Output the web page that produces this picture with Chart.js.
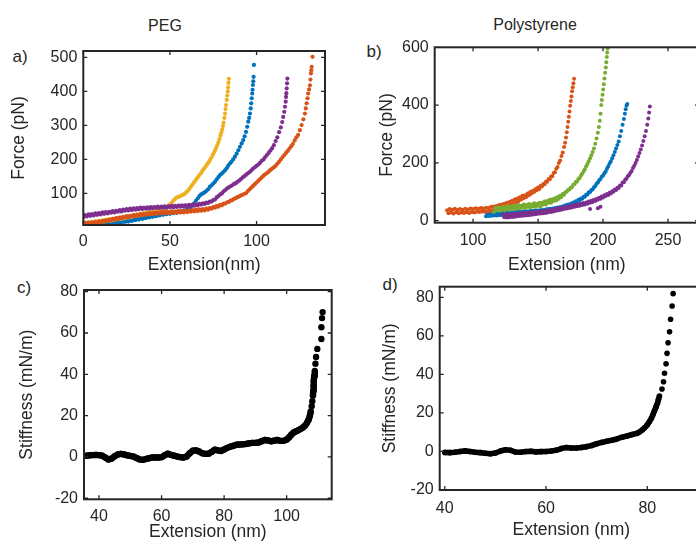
<!DOCTYPE html>
<html lang="en">
<head>
<meta charset="UTF-8">
<title>PEG / Polystyrene force and stiffness</title>
<script src="https://cdn.jsdelivr.net/npm/chart.js"></script>
<style>
  html, body { margin: 0; padding: 0; background: #fff; }
  body { position: relative; width: 696px; height: 545px; overflow: hidden;
         font-family: "Liberation Sans", Arial, Helvetica, sans-serif; color: #262626; }
  canvas { position: absolute; }
  .lbl { position: absolute; transform: translate(-50%, -50%); white-space: nowrap; }
</style>
</head>
<body>
<div class="lbl" style="left:165px;top:26px;font-size:16px">PEG</div>
<div class="lbl" style="left:535px;top:25px;font-size:16px">Polystyrene</div>
<div class="lbl" style="left:20px;top:57px;font-size:17px">a)</div>
<div class="lbl" style="left:374px;top:52px;font-size:17px">b)</div>
<div class="lbl" style="left:24px;top:288px;font-size:17px">c)</div>
<div class="lbl" style="left:390px;top:285px;font-size:17px">d)</div>

<canvas id="chartA" style="left:0;top:0" width="348" height="280"></canvas>
<canvas id="chartB" style="left:348px;top:0" width="360" height="280"></canvas>
<canvas id="chartC" style="left:0;top:262px" width="348" height="283"></canvas>
<canvas id="chartD" style="left:348px;top:262px" width="360" height="283"></canvas>

<script>
// ---- data: [extension nm, force pN] ----
const pegYellow = [[0,11],[1,14],[2,10],[3,15],[4,12],[5,16],[6,13],[7,18],[8,14],[9,19],[10,16],[11,21],[12,17],[13,22],[14,19],[15,24],[16,20],[17,25],[18,22],[19,27],[20,24],[21,29],[22,25],[23,30],[24,27],[25,32],[26,29],[27,34],[28,31],[29,36],[30,33],[31,38],[32,35],[33,40],[34,37],[35,42],[36,39],[37,44],[38,41],[39,45],[40,42],[41,47],[42,44],[43,49],[44,46],[45,50],[46,47],[47,52],[48,56],[49,62],[50,68],[51,72],[52,79],[53,84],[54,88],[55,90],[56,92],[57,95],[58,97],[59,101],[60,106],[61,112],[62,119],[63,126],[64,133],[65,140],[66,147],[67,154],[68,160],[68.8,167],[69.7,173],[70.6,179],[71.5,186],[72.4,192],[73.2,199],[74,206],[74.8,214],[75.5,221],[76.2,228],[76.8,235],[77.4,243],[78,251],[78.6,260],[79.2,270],[79.7,279],[80.2,288],[80.6,298],[81,308],[81.4,322],[81.8,335],[82.1,348],[82.4,360],[82.8,375],[83.1,388],[83.4,400],[83.6,412],[83.8,425],[84,437]];
const pegBlue = [[10,7],[11,10],[12,8],[13,11],[14,9],[15,12],[16,10],[17,13],[18,12],[19,15],[20,13],[21,16],[22,14],[23,18],[24,16],[25,19],[26,17],[27,21],[28,19],[29,23],[30,21],[31,25],[32,23],[33,27],[34,25],[35,29],[36,27],[37,31],[38,29],[39,33],[40,31],[41,35],[42,33],[43,37],[44,35],[45,39],[46,37],[47,41],[48,39],[49,42],[50,40],[51,44],[52,42],[53,45],[54,43],[55,47],[56,45],[57,48],[58,47],[59,50],[60,52],[61,55],[62,58],[63,65],[64,71],[65,78],[66,85],[67,92],[68,97],[69,100],[70,103],[71,107],[72,112],[73,119],[74,124],[75,129],[76,134],[77,141],[78,148],[78.9,154],[79.9,158],[80.8,163],[81.8,168],[82.7,174],[83.6,181],[84.6,188],[85.5,193],[86.5,200],[87.5,208],[88.5,217],[89.5,227],[90.4,237],[91.4,247],[92.3,257],[93.1,268],[93.9,281],[94.6,296],[95.2,311],[95.7,322],[96.2,335],[96.6,350],[96.9,365],[97.2,380],[97.5,394],[97.7,405],[97.9,419],[98.1,430],[98.3,443],[98.5,478]];
const pegPurple = [[0,30],[1,36],[2,32],[3,38],[4,34],[5,39],[6,35],[7,41],[8,37],[9,42],[10,38],[11,44],[12,40],[13,45],[14,41],[15,46],[16,43],[17,48],[18,44],[19,49],[20,46],[21,51],[22,47],[23,52],[24,49],[25,54],[26,50],[27,55],[28,51],[29,56],[30,52],[31,57],[32,53],[33,58],[34,54],[35,58],[36,55],[37,59],[38,55],[39,60],[40,56],[41,60],[42,57],[43,61],[44,57],[45,61],[46,58],[47,62],[48,58],[49,62],[50,59],[51,63],[52,59],[53,63],[54,60],[55,64],[56,61],[57,65],[58,61],[59,65],[60,62],[61,66],[62,63],[63,67],[64,64],[65,68],[66,65],[67,69],[68,67],[69,71],[70,69],[71,73],[72,72],[73,76],[74,76],[75,80],[76,82],[77,88],[78,92],[79,97],[80,100],[81,106],[82,110],[83,115],[84,118],[85,121],[86,124],[87,128],[88,130],[89,134],[90,138],[91,142],[92,147],[93,151],[94,155],[95,159],[96,163],[97,168],[98,173],[99,177],[100,181],[101,185],[102,190],[103,196],[104,200],[105,207],[106,213],[107,219],[108,226],[109,233],[110,242],[111,254],[112,265],[113,280],[114,294],[114.8,310],[115.4,325],[116,340],[116.4,355],[116.8,370],[117,384],[117.2,395],[117.4,409],[117.6,424],[117.8,438]];
const pegOrange = [[0,9],[1,13],[2,10],[3,14],[4,11],[5,15],[6,12],[7,16],[8,13],[9,18],[10,15],[11,19],[12,17],[13,21],[14,19],[15,23],[16,21],[17,25],[18,23],[19,27],[20,25],[21,29],[22,27],[23,31],[24,29],[25,33],[26,30],[27,34],[28,32],[29,36],[30,33],[31,37],[32,35],[33,39],[34,36],[35,40],[36,37],[37,41],[38,38],[39,42],[40,39],[41,43],[42,40],[43,44],[44,41],[45,45],[46,41],[47,46],[48,42],[49,46],[50,42],[51,47],[52,43],[53,47],[54,43],[55,48],[56,44],[57,48],[58,44],[59,49],[60,45],[61,50],[62,46],[63,51],[64,47],[65,52],[66,48],[67,53],[68,49],[69,54],[70,50],[71,55],[72,52],[73,57],[74,55],[75,60],[76,58],[77,63],[78,61],[79,66],[80,65],[81,70],[82,70],[83,74],[84,75],[85,79],[86,80],[87,84],[88,86],[89,89],[90,91],[91,94],[92,96],[93,99],[94,101],[95,107],[96,112],[97,117],[98,122],[99,127],[100,132],[101,137],[102,142],[103,147],[104,152],[105,156],[106,160],[107,164],[108,169],[109,173],[110,177],[111,181],[112,187],[113,193],[114,200],[115,207],[116,213],[117,219],[118,225],[119,232],[120,239],[121,246],[122,256],[123,265],[124,272],[125,286],[126,301],[127,318],[127.9,335],[128.4,350],[128.9,365],[129.4,380],[129.8,394],[130.3,406],[130.8,418],[131.1,435],[131.4,453],[131.6,462],[131.8,472],[132.3,502]];

const psOrange = [[80,36],[81,26],[82,40],[83,28],[84,38],[85,25],[86,41],[87,29],[88,37],[89,26],[90,40],[91,28],[92,38],[93,27],[94,41],[95,29],[96,39],[97,27],[98,42],[99,30],[100,40],[101,28],[102,43],[103,31],[104,41],[105,30],[106,44],[107,32],[108,42],[109,31],[110,45],[111,33],[112,44],[113,34],[114,48],[115,36],[116,49],[117,38],[118,51],[119,40],[120,54],[121,43],[122,56],[123,45],[124,59],[125,48],[126,62],[127,51],[128,65],[129,55],[130,69],[131,59],[132,73],[133,63],[134,77],[135,68],[136,81],[137,73],[138,86],[139,78],[140,88],[141,82],[142,94],[143,88],[144,99],[145,94],[146,104],[147,99],[148,110],[149,105],[150,115],[151,110],[152,121],[153,118],[154,127],[155,126],[156,135],[157,135],[158,143],[159,143],[160,153],[161,154],[162,165],[163,168],[164,180],[165,186],[166,200],[167,208],[168,224],[169,236],[170,255],[170.8,270],[171.5,288],[172.1,306],[172.7,324],[173.2,342],[173.7,360],[174.2,378],[174.7,398],[175.2,414],[175.7,430],[176.2,448],[176.7,462],[177.2,476],[177.7,491]];
const psGreen = [[116,30],[117,44],[118,36],[119,46],[120,34],[121,44],[122,38],[123,48],[124,36],[125,46],[126,40],[127,50],[128,38],[129,48],[130,42],[131,52],[132,40],[133,50],[134,44],[135,54],[136,42],[137,52],[138,46],[139,56],[140,44],[141,54],[142,48],[143,58],[144,46],[145,56],[146,50],[147,60],[148,48],[149,58],[150,52],[151,62],[152,50],[153,62],[154,56],[155,66],[156,56],[157,68],[158,62],[159,72],[160,62],[161,74],[162,68],[163,78],[164,70],[165,82],[166,76],[167,86],[168,82],[169,92],[170,90],[171,98],[172,100],[173,106],[174,108],[175,114],[176,116],[177,124],[178,126],[179,134],[180,136],[181,144],[182,148],[183,156],[184,162],[185,170],[186,178],[187,188],[188,196],[189,206],[190,216],[191,226],[192,238],[193,250],[194,266],[195,284],[196,304],[196.8,324],[197.5,346],[198.1,370],[198.6,400],[199.1,418],[199.6,436],[200.1,454],[200.6,472],[201.1,492],[201.6,512],[202.1,530],[202.5,548],[202.9,566],[203.2,582],[203.5,596]];
const psBlue = [[110,15],[111,22],[112,16],[113,23],[114,17],[115,24],[116,18],[117,24],[118,18],[119,25],[120,19],[121,26],[122,20],[123,27],[124,21],[125,27],[126,21],[127,28],[128,22],[129,29],[130,23],[131,29],[132,23],[133,30],[134,24],[135,31],[136,25],[137,31],[138,25],[139,32],[140,26],[141,33],[142,27],[143,33],[144,27],[145,34],[146,28],[147,35],[148,29],[149,35],[150,30],[151,36],[152,31],[153,37],[154,33],[155,38],[156,34],[157,40],[158,35],[159,41],[160,37],[161,42],[162,38],[163,44],[164,40],[165,46],[166,41],[167,47],[168,43],[169,50],[170,46],[171,53],[172,49],[173,56],[174,52],[175,59],[176,56],[177,63],[178,60],[179,67],[180,65],[181,72],[182,70],[183,77],[184,76],[185,83],[186,83],[187,90],[188,91],[189,98],[190,99],[191,106],[192,108],[193,116],[194,120],[195,128],[196,132],[197,140],[198,144],[199,152],[200,156],[201,164],[202,170],[203,180],[204,188],[205,198],[206,206],[207,216],[208,226],[209,238],[210,250],[211,262],[212,274],[213,292],[214,310],[215,332],[216,352],[216.8,370],[217.4,386],[218,398],[218.6,404]];
const psPurple = [[123,22],[124,12],[125,20],[126,11],[127,21],[128,12],[129,22],[130,13],[131,23],[132,14],[133,24],[134,15],[135,25],[136,16],[137,26],[138,17],[139,27],[140,18],[141,27],[142,19],[143,28],[144,20],[145,29],[146,21],[147,30],[148,22],[149,31],[150,24],[151,32],[152,25],[153,33],[154,26],[155,34],[156,27],[157,35],[158,29],[159,36],[160,30],[161,38],[162,32],[163,40],[164,34],[165,42],[166,36],[167,44],[168,38],[169,46],[170,40],[171,47],[172,42],[173,49],[174,44],[175,51],[176,46],[177,53],[178,48],[179,55],[180,50],[181,57],[182,52],[183,59],[184,54],[185,61],[186,56],[187,63],[188,59],[189,66],[190,62],[191,69],[192,65],[193,72],[194,68],[195,75],[196,72],[197,79],[198,76],[199,84],[200,80],[201,88],[202,85],[203,92],[204,89],[205,97],[206,94],[207,102],[208,100],[209,108],[210,106],[211,114],[212,113],[213,122],[214,122],[215,132],[216,133],[217,142],[218,145],[219,154],[220,158],[221,166],[222,172],[223,182],[224,190],[225,200],[226,210],[227,222],[228,234],[229,246],[230,260],[231,276],[232,292],[233,310],[234,332],[234.8,354],[235.4,374],[236,395],[190,40],[196,43],[198,48]];

// stiffness (mN/m) vs extension (nm)
const stiffPEG = [[35,0.5],[36,0.6],[37,0.8],[38,0.9],[39,1.0],[40,0.9],[41,0.6],[42,-0.3],[43,-1.2],[44,-0.8],[45,0.3],[46,1.2],[47,1.5],[48,1.2],[49,0.8],[50,0.5],[51,0.2],[52,-0.5],[53,-1.2],[54,-1.4],[55,-1.0],[56,-0.6],[57,-0.3],[58,-0.2],[59,-0.3],[60,-0.1],[61,0.8],[62,1.6],[63,1.0],[64,0.6],[65,0.2],[66,-0.1],[67,-0.3],[68,0.2],[69,1.8],[70,3.0],[71,3.2],[72,2.6],[73,1.8],[74,1.5],[75,1.6],[76,2.4],[77,3.5],[78,3.2],[79,2.9],[80,3.6],[81,4.4],[82,5.0],[83,5.4],[84,5.9],[85,6.0],[86,6.1],[87,6.3],[88,6.6],[89,6.8],[90,6.8],[91,7.0],[92,7.6],[93,8.2],[94,8.0],[95,7.6],[96,7.9],[97,8.2],[98,7.8],[99,7.8],[100,8.4],[100.8,9.5],[101.5,10.8],[102.2,11.8],[103,12.4],[103.8,13.0],[104.5,13.6],[105.2,14.3],[105.9,15.2],[106.5,16.5],[107,18.0],[107.4,19.8],[107.7,22],[108,24.5],[108.2,27],[108.4,29.6],[108.5,32],[108.6,34.4],[108.7,36.8],[108.8,39.2],[109,41.6],[109.2,45.1],[109.4,48.4],[109.8,52.3],[111.1,57.1],[111.1,62.8],[111.3,67.2],[111.5,70.1]];
const stiffPS = [[40,-0.5],[41,-0.6],[42,-0.4],[43,0],[44,0.3],[45,0],[46,-0.4],[47,-0.6],[48,-0.9],[49,-1.2],[50,-0.8],[51,0.2],[52,0.9],[53,0.6],[54,-0.3],[55,-0.4],[56,0],[57,0.1],[58,-0.2],[59,-0.1],[60,0],[61,0.2],[62,0.6],[63,1.5],[64,2.0],[65,1.8],[66,1.8],[67,2.1],[68,2.5],[69,3.1],[70,4.0],[71,4.7],[72,5.3],[73,5.8],[74,6.5],[75,7.4],[76,8.0],[77,8.8],[78,9.4],[78.5,10.2],[79,11.2],[79.5,12.4],[80,13.8],[80.4,15.4],[80.8,17.2],[81.1,19],[81.4,21],[81.7,23],[82,25],[82.2,27],[82.4,28.8],[82.9,32.4],[83.2,36.2],[83.4,40.6],[83.7,45.5],[83.9,50.9],[84.1,56.4],[84.4,62.1],[84.6,68.6],[84.9,75.5],[85.1,81.9]];

// tick labels
const ticksAx = [0, 50, 100];
const ticksAy = [100, 200, 300, 400, 500];
const ticksBx = [100, 150, 200, 250];
const ticksBy = [0, 200, 400, 600];
const ticksCx = [40, 60, 80, 100];
const ticksCy = [-20, 0, 20, 40, 60, 80];
const ticksDx = [40, 60, 80];
const ticksDy = [-20, 0, 20, 40, 60, 80];

const INK = '#262626';
const tickFont = { family: '"Liberation Sans", Arial, sans-serif', size: 16 };
const titleFont = { family: '"Liberation Sans", Arial, sans-serif', size: 17.5 };

// MATLAB style box with inward ticks on all four sides
const boxPlugin = {
  id: 'box',
  afterDatasetsDraw(chart) {
    const { ctx, chartArea: a, scales: { x, y } } = chart;
    const len = 4;
    ctx.save();
    ctx.strokeStyle = INK;
    ctx.lineWidth = 1.3;
    ctx.beginPath();
    x.ticks.forEach(t => {
      const p = x.getPixelForValue(t.value);
      ctx.moveTo(p, a.bottom); ctx.lineTo(p, a.bottom - len);
      ctx.moveTo(p, a.top); ctx.lineTo(p, a.top + len);
    });
    y.ticks.forEach(t => {
      const p = y.getPixelForValue(t.value);
      ctx.moveTo(a.left, p); ctx.lineTo(a.left + len, p);
      ctx.moveTo(a.right, p); ctx.lineTo(a.right - len, p);
    });
    ctx.stroke();
    ctx.lineWidth = 2;
    ctx.strokeRect(a.left, a.top, a.right - a.left, a.bottom - a.top);
    ctx.restore();
  }
};

function dots(data, color, r) {
  return { data: data, showLine: false, pointRadius: r, pointBorderWidth: 0,
           pointBackgroundColor: color, borderColor: color };
}

// big black dots; consecutive close points are joined so dense runs look solid
function fatDots(data, r, gap) {
  return { data: data, showLine: true, pointRadius: r, pointBorderWidth: 0,
           pointBackgroundColor: '#000', borderColor: '#000', borderWidth: 2 * r,
           borderJoinStyle: 'round',
           segment: { borderColor: c => Math.hypot(c.p1.x - c.p0.x, c.p1.y - c.p0.y) > gap ? 'rgba(0,0,0,0)' : '#000' } };
}

function panel(id, o) {
  return new Chart(document.getElementById(id), {
    type: 'scatter',
    data: { datasets: o.datasets },
    options: {
      responsive: false,
      animation: false,
      events: [],
      layout: { padding: o.pad },
      plugins: { legend: { display: false }, tooltip: { enabled: false } },
      scales: {
        x: {
          type: 'linear', min: o.xMin, max: o.xMax,
          afterBuildTicks: s => { s.ticks = o.xTicks.map(v => ({ value: v })); },
          afterFit: s => { s.height = o.xH; },
          grid: { display: false, drawTicks: false }, border: { display: false },
          ticks: { color: INK, font: tickFont, padding: o.xTickPad, maxRotation: 0 },
          title: { display: true, text: o.xTitle, color: INK, font: titleFont, padding: { top: 0, bottom: o.xTitlePad } }
        },
        y: {
          type: 'linear', min: o.yMin, max: o.yMax,
          afterBuildTicks: s => { s.ticks = o.yTicks.map(v => ({ value: v })); },
          afterFit: s => { s.width = o.yW; },
          grid: { display: false, drawTicks: false }, border: { display: false },
          ticks: { color: INK, font: tickFont, padding: 6 },
          title: { display: true, text: o.yTitle, color: INK, font: titleFont, padding: { top: o.yTitlePad, bottom: 0 } }
        }
      }
    },
    plugins: [boxPlugin]
  });
}

panel('chartA', {
  datasets: [dots(pegPurple, '#7E2F8E', 2.1), dots(pegOrange, '#D95319', 2.1), dots(pegYellow, '#EDB120', 2.1), dots(pegBlue, '#0072BD', 2.1)],
  xMin: 0, xMax: 139.5, yMin: 7, yMax: 519,
  xTicks: ticksAx, yTicks: ticksAy,
  pad: { left: 0, right: 23, top: 51, bottom: 0 }, yW: 83.3, xH: 55,
  xTickPad: 7, xTitle: 'Extension(nm)', xTitlePad: 4,
  yTitle: 'Force (pN)', yTitlePad: 9
});

panel('chartB', {
  datasets: [dots(psGreen, '#77AC30', 2), dots(psOrange, '#D95319', 2), dots(psPurple, '#7E2F8E', 2), dots(psBlue, '#0072BD', 2)],
  xMin: 70.5, xMax: 273.8, yMin: -7, yMax: 600,
  xTicks: ticksBx, yTicks: ticksBy,
  pad: { left: 0, right: 9, top: 47.3, bottom: 0 }, yW: 86.7, xH: 57.3,
  xTickPad: 8.5, xTitle: 'Extension (nm)', xTitlePad: 4,
  yTitle: 'Force (pN)', yTitlePad: 29
});

panel('chartC', {
  datasets: [fatDots(stiffPEG, 3.2, 5)],
  xMin: 35.2, xMax: 114.4, yMin: -20.5, yMax: 80.8,
  xTicks: ticksCx, yTicks: ticksCy,
  pad: { left: 0, right: 16.3, top: 28, bottom: 0 }, yW: 84, xH: 45.7,
  xTickPad: 7.5, xTitle: 'Extension (nm)', xTitlePad: 2,
  yTitle: 'Stiffness (mN/m)', yTitlePad: 17
});

panel('chartD', {
  datasets: [fatDots(stiffPS, 2.8, 6)],
  xMin: 39, xMax: 91, yMin: -20, yMax: 85.5,
  xTicks: ticksDx, yTicks: ticksDy,
  pad: { left: 0, right: 5, top: 24.7, bottom: 0 }, yW: 91.7, xH: 55,
  xTickPad: 9.4, xTitle: 'Extension (nm)', xTitlePad: 4,
  yTitle: 'Stiffness (mN/m)', yTitlePad: 32
});
</script>
</body>
</html>
